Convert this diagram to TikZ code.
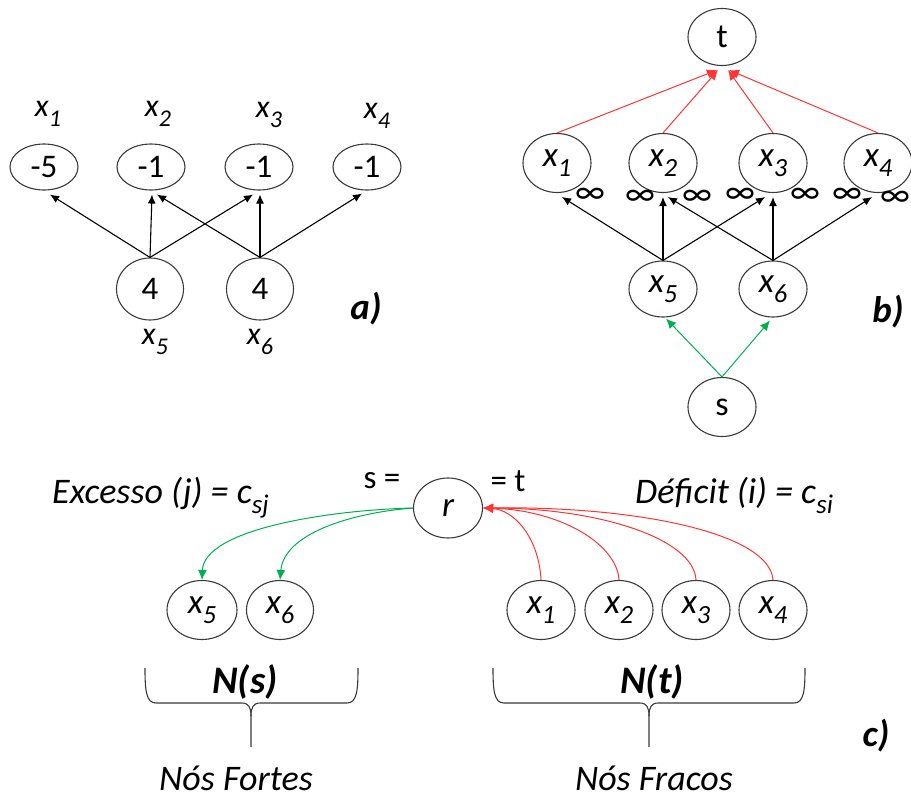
\documentclass[tikz,border=0pt]{standalone}
\usepackage{fontspec}
\setmainfont{Carlito}
\usetikzlibrary{shapes.geometric,arrows.meta,calc}
\definecolor{ncol}{HTML}{3A3A3A}
\definecolor{rd}{HTML}{FF3333}
\definecolor{gr}{HTML}{00B050}
\newcommand\xsub[2]{#1\raisebox{-0.3em}{\scalebox{0.75}{#2}}}
\newcommand\fsz[1]{\fontsize{#1}{#1}\selectfont}
\begin{document}
\begin{tikzpicture}[x=1pt,y=-1pt,
  nd/.style={draw=ncol, line width=1.1pt, ellipse, inner sep=0pt, minimum width=68pt, minimum height=59pt, font=\fsz{34}},
  lab/.style={inner sep=0pt, font=\fsz{32}\itshape},
  inf/.style={inner sep=0pt, font=\fsz{35}},
  tag/.style={inner sep=0pt, font=\fsz{37}\bfseries\itshape},
  blk/.style={draw=black, line width=1.1pt, -{Latex[length=9pt,width=8pt]}},
  rarr/.style={draw=rd, line width=1pt, -{Latex[length=10pt,width=9pt]}},
  garr/.style={draw=gr, line width=1pt, -{Latex[length=10pt,width=9pt]}},
  brc/.style={draw=ncol, line width=1.1pt},
]
\useasboundingbox (0,0) rectangle (911,798);

% ---------- panel a ----------
\node[nd, minimum height=46pt, font=\fsz{33}] (a1) at (44,167) {-5};
\node[nd, minimum height=46pt, font=\fsz{33}] (a2) at (151,167) {-1};
\node[nd, minimum height=46pt, font=\fsz{33}] (a3) at (259,167) {-1};
\node[nd, minimum height=46pt, font=\fsz{33}] (a4) at (367,167) {-1};
\node[nd, minimum width=67pt, minimum height=62pt, font=\fsz{33}] (a5) at (150,289) {4};
\node[nd, minimum width=67pt, minimum height=62pt, font=\fsz{33}] (a6) at (260,289) {4};
\node[lab] (la1) at (48,114) {\xsub{x}{1}};
\node[lab] (la2) at (158,114) {\xsub{x}{2}};
\node[lab] (la3) at (269,115) {\xsub{x}{3}};
\node[lab] (la4) at (377,116) {\xsub{x}{4}};
\node[lab] (la5) at (155,342) {\xsub{x}{5}};
\node[lab] (la6) at (260,342) {\xsub{x}{6}};
\node[tag] (ta) at (366,309) {a)};
\draw[blk] (a5.north) -- ($(a1.south)+(6,4)$);
\draw[blk] (a5.north) -- ($(a2.south)+(1,4)$);
\draw[blk] (a5.north) -- ($(a3.south)+(-6,4)$);
\draw[blk] (a6.north) -- ($(a2.south)+(6,4)$);
\draw[blk] (a6.north) -- ($(a3.south)+(1,4)$);
\draw[blk] (a6.north) -- ($(a4.south)+(-5,3)$);

% ---------- panel b ----------
\node[nd, minimum height=57pt] (t) at (722,37) {t};
\node[nd, font=\fsz{35}\itshape] (b1) at (557,163) {\xsub{x}{1}};
\node[nd, font=\fsz{35}\itshape] (b2) at (663,163) {\xsub{x}{2}};
\node[nd, font=\fsz{35}\itshape] (b3) at (773,163) {\xsub{x}{3}};
\node[nd, font=\fsz{35}\itshape] (b4) at (878,163) {\xsub{x}{4}};
\node[nd, minimum height=56pt, font=\fsz{35}\itshape] (b5) at (663,289) {\xsub{x}{5}};
\node[nd, minimum height=56pt, font=\fsz{35}\itshape] (b6) at (773,289) {\xsub{x}{6}};
\node[nd] (s) at (722,407) {s};
\node[tag] (tb) at (888,312) {b)};
\draw[rarr] (b1.north) -- ($(t.south)+(-5,4)$);
\draw[rarr] (b2.north) -- ($(t.south)+(-4,4)$);
\draw[rarr] (b3.north) -- ($(t.south)+(6,4)$);
\draw[rarr] (b4.north) -- ($(t.south)+(7,4)$);
\draw[blk] (b5.north) -- ($(b1.south)+(5,4)$);
\draw[blk] (b5.north) -- ($(b2.south)+(0,4)$);
\draw[blk] (b5.north) -- ($(b3.south)+(-8,4)$);
\draw[blk] (b6.north) -- ($(b2.south)+(5,4)$);
\draw[blk] (b6.north) -- ($(b3.south)+(0,4)$);
\draw[blk] (b6.north) -- ($(b4.south)+(-6,4)$);
\draw[garr] (s.north) -- ($(b5.south)+(3,1)$);
\draw[garr] (s.north) -- ($(b6.south)+(-3,3)$);
\node[inf] (i1) at (590,196) {∞};
\node[inf] (i2) at (640,198) {∞};
\node[inf] (i3) at (697,198) {∞};
\node[inf] (i4) at (740,196) {∞};
\node[inf] (i5) at (805,196) {∞};
\node[inf] (i6) at (847,196) {∞};
\node[inf] (i7) at (895,199) {∞};

% ---------- panel c ----------
\node[nd, minimum width=69pt, minimum height=60pt, font=\fsz{35}\itshape] (r) at (448,508) {r};
\node[nd, minimum width=70pt, font=\fsz{35}\itshape] (c5) at (202,610) {\xsub{x}{5}};
\node[nd, minimum width=67pt, font=\fsz{35}\itshape] (c6) at (280,610) {\xsub{x}{6}};
\node[nd, font=\fsz{35}\itshape] (c1) at (541,610) {\xsub{x}{1}};
\node[nd, font=\fsz{35}\itshape] (c2) at (619,610) {\xsub{x}{2}};
\node[nd, font=\fsz{35}\itshape] (c3) at (696,610) {\xsub{x}{3}};
\node[nd, font=\fsz{35}\itshape] (c4) at (773,610) {\xsub{x}{4}};
\node[inner sep=0pt, font=\fsz{33}] (seq) at (382,481) {s =};
\node[inner sep=0pt, font=\fsz{33}] (teq) at (508,481) {= t};
\node[inner sep=0pt, anchor=base west, font=\fsz{36}\itshape] (exc) at (52,503) {Excesso (j) = \xsub{c}{sj}};
\node[inner sep=0pt, anchor=base west, font=\fsz{36}\itshape] (def) at (635,503) {Déficit (i) = \xsub{c}{si}};
\draw[garr] (r.west) .. controls +(-83,2) and +(2,-51) .. (c5.north);
\draw[garr] (r.west) .. controls +(-63,5) and +(4,-46) .. (c6.north);
\draw[rarr] (c1.north) .. controls +(-2,-41) and +(32,2) .. (r.east);
\draw[rarr] (c2.north) .. controls +(-2,-36) and +(77,2) .. (r.east);
\draw[rarr] (c3.north) .. controls +(-2,-41) and +(117,0) .. (r.east);
\draw[rarr] (c4.north) .. controls +(-3,-46) and +(157,-2) .. (r.east);
% braces
\draw[brc] (145,668) .. controls (145,690) and (146,703) .. (156,703) -- (242,703)
  .. controls (249,703) and (251,708) .. (251,716) -- (251,747);
\draw[brc] (358,668) .. controls (358,690) and (357,703) .. (347,703) -- (260,703)
  .. controls (253,703) and (251,708) .. (251,716);
\draw[brc] (493,668) .. controls (493,690) and (494,703) .. (504,703) -- (640,703)
  .. controls (647,703) and (649,708) .. (649,716) -- (649,747);
\draw[brc] (805,668) .. controls (805,690) and (804,703) .. (794,703) -- (658,703)
  .. controls (651,703) and (649,708) .. (649,716);
\node[tag, font=\fsz{39}\bfseries\itshape] (ns) at (245,682) {N(s)};
\node[tag, font=\fsz{39}\bfseries\itshape] (nt) at (652,682) {N(t)};
\node[inner sep=0pt, anchor=base, font=\fsz{36}\itshape] (nf) at (236,790) {Nós Fortes};
\node[inner sep=0pt, anchor=base, font=\fsz{36}\itshape] (nw) at (654,790) {Nós Fracos};
\node[tag] (tc) at (876,736) {c)};
\end{tikzpicture}
\end{document}
